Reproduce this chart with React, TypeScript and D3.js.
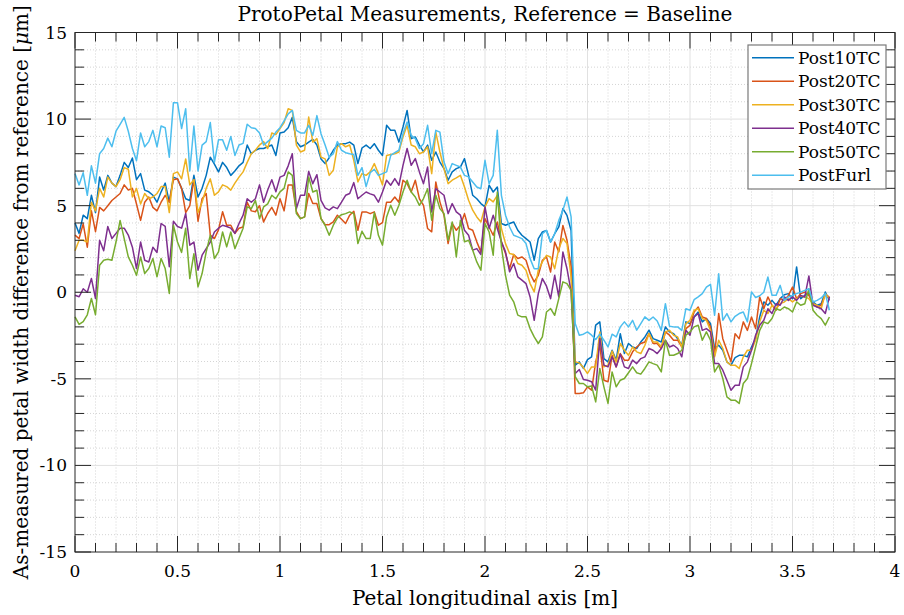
import React from 'react';
import * as d3 from 'd3';

// ProtoPetal width difference from baseline, sampled every 0.02 m along the petal
const SAMPLE_STEP = 0.02;

const seriesNames = ['Post10TC', 'Post20TC', 'Post30TC', 'Post40TC', 'Post50TC', 'PostFurl'];
const seriesColors = ['#0072BD', '#D95319', '#EDB120', '#7E2F8E', '#77AC30', '#4DBEEE'];

const post10TC = [
  4.0, 3.4, 4.45, 4.25, 5.6, 4.6, 6.65, 5.9, 6.75, 6.3, 6.1, 6.75, 7.5, 7.2, 7.75, 6.5, 6.85, 5.9, 5.8, 5.6, 5.2, 5.8, 6.3, 5.2, 6.65, 6.55, 6.0, 5.4, 5.3,
  6.75, 5.5, 6.0, 6.75, 7.8, 7.4, 6.95, 7.5, 7.2, 6.75, 7.0, 7.3, 7.5, 8.5, 8.0, 8.2, 8.3, 8.3, 8.4, 8.5, 7.9, 9.2, 9.25, 9.5, 10.1, 8.7, 8.4, 8.5,
  8.67, 8.83, 8.5, 7.7, 7.43, 7.77, 8.2, 8.5, 8.58, 8.58, 8.67, 8.5, 7.43, 8.33, 8.5, 8.3, 8.58, 8.2, 7.9, 9.64, 9.35, 9.35, 8.67, 9.54, 10.5, 8.87, 8.97, 8.5,
  8.1, 8.5, 7.62, 8.1, 7.52, 7.14, 6.47, 6.95, 7.14, 7.23, 7.72, 6.75, 5.6, 5.4, 5.12, 4.93, 6.18, 5.79, 6.08, 3.97, 3.87, 3.97, 4.06, 3.58, 3.29, 3.1,
  2.9, 1.85, 3.1, 3.48, 3.57, 2.9, 3.38, 3.77, 4.83, 4.44, 3.57, -4.21, -4.02, -4.4, -3.89, -3.73, -1.9, -1.71, -3.83, -4.02, -3.35, -3.92, -2.39, -3.54, -2.96, -3.16, -3.25, -2.87, -2.58, -2.19,
  -2.68, -2.77, -2.87, -2.0, -2.29, -2.39, -2.68, -3.06, -1.71, -1.81, -1.43, -1.14, -1.71, -1.52, -1.81, -3.25, -3.06, -3.35, -4.02, -4.21, -3.77, -3.64, -3.64, -3.73, -3.16, -2.68, -1.43,
  -0.56, -0.75, -0.47, -0.75, -0.37, -0.14, -0.08, -0.37, 1.46, -0.37, -0.18, -0.08, -0.56, -0.75, -0.66, 0.01, -0.47,
];

const post20TC = [
  3.3, 3.1, 3.95, 2.6, 4.7, 3.5, 4.9, 4.7, 5.0, 5.3, 5.5, 5.7, 6.2, 5.9, 6.0, 5.1, 4.15, 5.2, 5.5, 4.9, 4.7, 5.2, 5.6, 5.2, 6.5, 6.55, 6.0, 4.6, 5.0,
  6.5, 4.1, 5.4, 5.7, 3.3, 3.1, 3.6, 4.65, 3.87, 3.87, 3.4, 3.7, 3.77, 5.2, 4.7, 4.65, 5.0, 4.06, 4.55, 4.9, 4.45, 5.4, 4.7, 6.2, 6.2, 4.65, 4.25, 4.35,
  5.7, 5.12, 5.12, 4.25, 3.9, 3.9, 4.06, 4.45, 4.22, 3.97, 4.45, 4.68, 3.58, 4.64, 4.64, 4.54, 4.64, 3.87, 4.02, 5.2, 5.2, 5.5, 5.2, 6.47, 6.27, 5.79, 6.47, 5.4,
  5.02, 3.68, 3.49, 6.37, 5.22, 4.45, 2.81, 3.97, 3.58, 3.87, 4.54, 3.68, 3.58, 2.91, 2.33, 4.25, 3.77, 3.29, 4.06, 2.91, 2.24, 1.37, 2.18, 1.95, 2.04, 1.85,
  1.08, 0.6, 0.98, 1.85, 2.04, 1.17, 2.9, 2.33, 3.86, 3.0, 1.46, -5.85, -5.85, -5.81, -5.46, -5.65, -4.02, -3.06, -5.08, -5.17, -3.64, -4.31, -3.54, -3.92, -3.92, -3.44, -3.16, -2.96, -2.87, -2.39,
  -2.96, -2.96, -3.25, -2.29, -2.48, -2.77, -2.77, -3.16, -2.1, -1.91, -1.14, -0.85, -1.43, -1.52, -2.0, -3.64, -1.23, -2.68, -3.35, -4.02, -2.39, -2.68, -1.71, -2.2, -1.43, -2.1, -0.27,
  -0.95, -0.27, -0.75, -1.04, -0.37, -0.47, -0.18, 0.3, -0.37, -0.08, 0.01, -0.18, -0.66, -0.85, -0.75, -0.14, -0.27,
];

const post30TC = [
  2.4, 3.0, 3.0, 2.9, 5.2, 4.7, 6.0, 5.5, 6.65, 6.3, 6.1, 6.5, 7.2, 7.1, 5.5, 6.0, 5.1, 5.7, 5.4, 5.5, 5.7, 6.1, 6.1, 4.6, 6.85, 6.95, 6.55, 7.7, 6.2,
  6.5, 4.6, 5.2, 6.0, 6.55, 5.6, 5.8, 6.2, 6.1, 5.9, 6.3, 6.65, 6.95, 7.5, 8.0, 8.2, 8.5, 8.7, 8.3, 9.2, 9.1, 9.45, 9.8, 10.6, 10.5, 8.5, 8.1, 8.2,
  10.12, 8.67, 8.87, 7.8, 7.7, 6.75, 7.04, 8.4, 8.58, 8.4, 8.5, 7.62, 6.37, 6.85, 6.75, 6.95, 7.43, 6.85, 6.2, 7.9, 7.95, 8.0, 8.1, 8.97, 9.64, 8.5, 8.4, 8.0,
  8.1, 8.4, 6.85, 9.25, 8.1, 7.14, 6.27, 6.47, 6.6, 6.75, 6.08, 5.31, 4.74, 4.35, 4.06, 4.93, 5.41, 5.22, 5.6, 3.68, 2.81, 2.24, 2.18, 1.66, 1.56, 1.27,
  0.5, 0.02, 1.27, 1.75, 2.13, 2.04, 1.36, 2.52, 3.1, 2.81, 0.88, -4.02, -4.08, -4.35, -4.69, -4.31, -4.31, -2.29, -4.31, -4.21, -3.39, -4.02, -2.96, -3.35, -3.64, -3.16, -3.44, -3.54, -3.06, -2.39,
  -2.87, -2.87, -3.16, -2.29, -2.2, -2.48, -2.58, -3.16, -1.81, -1.62, -1.04, -0.95, -1.52, -1.62, -2.2, -3.73, -2.77, -3.25, -4.02, -4.21, -4.21, -4.4, -3.73, -3.35, -3.35, -2.77, -1.71,
  -1.04, -1.23, -0.75, -0.95, -0.66, -0.56, -0.37, -0.56, -0.37, -0.22, -0.27, -0.37, -0.66, -0.75, -0.95, -0.08, -0.37,
];

const post40TC = [
  -0.17, -0.26, 0.2, 0.0, 0.8, -0.36, 3.0, 2.4, 3.8, 3.1, 3.4, 3.7, 3.7, 3.3, 2.6, 1.37, 2.9, 1.85, 1.75, 2.6, 2.3, 3.97, 3.8, 1.47, 4.1, 3.8, 3.7, 4.55, 2.72,
  2.9, 1.27, 2.14, 2.52, 2.9, 3.48, 3.7, 3.87, 3.8, 3.7, 3.4, 3.97, 4.45, 5.4, 5.2, 5.4, 6.2, 5.2, 5.9, 6.5, 5.8, 6.65, 6.75, 7.3, 8.0, 4.83, 5.6, 5.6,
  6.98, 6.27, 6.79, 5.3, 4.87, 4.74, 4.93, 4.83, 5.2, 5.6, 5.7, 6.33, 5.4, 5.6, 5.79, 5.68, 5.6, 5.2, 5.79, 6.47, 6.18, 6.56, 6.18, 7.33, 8.3, 7.33, 7.72, 6.95,
  6.27, 7.23, 4.64, 5.98, 5.79, 5.6, 4.54, 5.12, 4.64, 4.45, 3.58, 3.29, 2.43, 2.52, 2.18, 4.93, 3.68, 4.45, 3.68, 2.91, 2.33, 1.18, 1.66, 0.89, 0.7, 0.5,
  -0.27, -1.62, -0.08, 0.79, 0.35, -0.37, 0.98, -0.27, 2.33, 1.36, 0.02, -4.69, -4.46, -5.04, -5.08, -5.17, -5.65, -2.67, -4.21, -4.31, -3.73, -4.31, -3.58, -4.31, -4.4, -3.92, -4.12, -3.83, -3.73, -3.25,
  -3.35, -3.54, -3.25, -2.77, -3.16, -3.06, -3.25, -3.73, -2.2, -2.48, -1.43, -1.23, -2.2, -2.1, -2.29, -4.12, -4.12, -4.5, -5.08, -5.66, -5.37, -5.37, -4.31, -4.02, -3.35, -2.48, -1.91,
  -1.62, -0.95, -1.23, -0.66, -0.75, -0.27, -0.47, -0.27, -0.47, -0.18, -0.27, 0.94, -0.75, -0.85, -0.95, -1.23, -0.27,
];

const post50TC = [
  -1.42, -1.86, -1.7, -1.3, -0.36, -1.3, 1.56, 1.85, 1.9, 1.85, 2.9, 4.15, 3.1, 2.04, 1.56, 0.98, 2.04, 1.08, 1.37, 1.95, 0.89, 1.95, 1.37, -0.07, 3.87, 2.9, 2.3, 3.7, 0.79,
  2.23, 0.31, 1.08, 2.33, 3.3, 1.95, 2.33, 3.48, 2.62, 3.48, 2.52, 3.1, 3.7, 4.93, 4.83, 5.3, 4.25, 4.93, 5.1, 5.6, 5.4, 5.8, 6.0, 6.95, 6.75, 4.54, 4.25, 4.35,
  6.66, 5.79, 5.89, 4.25, 3.87, 3.29, 3.87, 4.29, 4.48, 4.54, 4.64, 4.54, 2.81, 3.52, 3.1, 3.1, 4.6, 3.29, 2.72, 4.35, 5.02, 4.45, 5.02, 5.79, 6.47, 5.79, 5.5, 5.02,
  5.41, 5.98, 4.16, 5.6, 4.83, 4.54, 3.0, 4.06, 2.04, 4.16, 2.91, 3.0, 2.43, 1.75, 1.27, 3.97, 3.48, 2.14, 5.79, 2.62, 0.98, -0.17, -0.55, -1.32, -1.42, -1.42,
  -2.1, -2.58, -2.96, -2.58, -1.14, -0.94, -1.33, -0.37, 0.6, 0.5, 0.11, -4.88, -5.27, -5.27, -5.46, -5.42, -6.33, -4.4, -5.46, -6.42, -4.6, -5.46, -5.08, -4.98, -4.65, -4.31, -4.65, -4.73, -4.4, -4.02,
  -4.12, -4.21, -4.6, -2.77, -3.64, -3.64, -3.54, -3.35, -2.48, -2.29, -2.0, -1.91, -2.77, -2.29, -2.77, -4.6, -4.21, -4.98, -6.04, -6.23, -6.23, -6.42, -5.27, -4.98, -4.12, -3.16, -2.2,
  -1.72, -1.81, -1.52, -0.95, -1.04, -0.85, -0.95, -1.14, -0.56, -0.75, -0.66, 0.2, -1.04, -1.33, -1.52, -1.9, -1.43,
];

const postFurl = [
  6.85, 6.2, 6.9, 5.6, 7.3, 6.3, 8.0, 8.3, 8.9, 8.4, 9.3, 9.7, 10.1, 9.3, 8.3, 7.6, 9.2, 8.4, 8.7, 9.35, 8.4, 9.6, 9.5, 7.8, 10.95, 10.95, 9.45, 10.6, 7.0,
  9.6, 7.0, 8.5, 8.7, 9.8, 7.5, 8.8, 8.8, 8.2, 9.0, 7.9, 8.5, 8.6, 9.7, 9.5, 9.45, 9.2, 8.5, 8.7, 8.9, 9.25, 9.5, 9.9, 10.3, 10.5, 9.35, 9.2, 9.2,
  9.64, 9.06, 10.2, 9.16, 8.5, 7.8, 8.0, 8.7, 8.2, 8.06, 8.0, 7.95, 6.75, 7.2, 6.1, 6.9, 7.1, 6.75, 6.85, 6.95, 7.9, 8.06, 8.2, 9.16, 9.83, 9.06, 8.87, 8.3,
  8.58, 9.64, 8.0, 9.35, 9.25, 7.52, 6.85, 7.43, 7.33, 7.23, 6.75, 6.66, 6.37, 6.08, 5.98, 7.62, 6.27, 6.75, 9.35, 5.6, 4.45, 3.77, 3.29, 3.2, 3.1, 2.81,
  1.94, 1.36, 1.36, 3.38, 3.57, 2.9, 3.38, 4.15, 4.73, 5.5, 4.35, -1.81, -2.48, -2.42, -2.29, -2.48, -2.73, -2.42, -2.77, -3.16, -2.42, -2.58, -2.0, -1.71, -2.0, -1.62, -2.19, -1.81, -1.42, -1.62,
  -1.43, -1.66, -2.2, -0.66, -1.96, -2.0, -2.0, -2.2, -0.95, -1.04, -0.43, -0.27, -0.08, 0.3, 0.46, -1.33, 1.07, -1.62, -1.23, -1.71, -1.39, -1.23, -1.14, -1.71, 0.02, -0.3, -0.2,
  0.0, 0.88, -0.18, -0.18, 0.4, -0.47, -0.27, -0.18, -0.08, 0.01, 0.11, 0.2, -0.56, -0.47, -0.33, -0.08, -1.04,
];

const seriesValues = [post10TC, post20TC, post30TC, post40TC, post50TC, postFurl];

const xTickValues = [0, 0.5, 1, 1.5, 2, 2.5, 3, 3.5, 4];
const xTickLabels = ['0', '0.5', '1', '1.5', '2', '2.5', '3', '3.5', '4'];
const yTickValues = [-15, -10, -5, 0, 5, 10, 15];
const yTickLabels = ['-15', '-10', '-5', '0', '5', '10', '15'];

const titleText = 'ProtoPetal Measurements, Reference = Baseline';
const xLabelText = 'Petal longitudinal axis [m]';

const W = 904;
const H = 615;
const M = { left: 75, right: 9, top: 32.5, bottom: 63 };
const FONT = '"DejaVu Serif", "Liberation Serif", serif';
const AXIS = '#262626';

export default function App() {
  const x = d3.scaleLinear().domain([0, 4]).range([M.left, W - M.right]);
  const y = d3.scaleLinear().domain([-15, 15]).range([H - M.bottom, M.top]);
  const [x0, x1] = x.range();
  const [yb, yt] = y.range();

  const xMinor = d3.range(0, 4.0001, 0.1).map((v) => +v.toFixed(2)).filter((v) => !xTickValues.some((t) => Math.abs(t - v) < 1e-6));
  const yMinor = d3.range(-15, 15.0001, 1).filter((v) => v % 5 !== 0);

  const line = d3
    .line<number>()
    .x((_, i) => x(i * SAMPLE_STEP))
    .y((d) => y(d));

  const majorLen = 16;
  const minorLen = 9;

  const legendX = 748;
  const legendY = 45;
  const legendW = 138;
  const legendH = 144;
  const rowH = 23.5;

  return (
    <svg
      width={W}
      height={H}
      viewBox={`0 0 ${W} ${H}`}
      style={{ position: 'absolute', left: 0, top: 0, background: '#fff' }}
      fontFamily={FONT}
    >
      <rect x={0} y={0} width={W} height={H} fill="#fff" />
      <rect x={x0} y={yt} width={x1 - x0} height={yb - yt} fill="#fff" />

      {/* minor grid */}
      <g stroke="#c9c9c9" strokeWidth={0.8} strokeDasharray="1 2">
        {xMinor.map((v) => (
          <line key={`xm${v}`} x1={x(v)} x2={x(v)} y1={yt} y2={yb} />
        ))}
        {yMinor.map((v) => (
          <line key={`ym${v}`} x1={x0} x2={x1} y1={y(v)} y2={y(v)} />
        ))}
      </g>
      {/* major grid */}
      <g stroke="#e1e1e1" strokeWidth={1}>
        {xTickValues.slice(1, -1).map((v) => (
          <line key={`xg${v}`} x1={x(v)} x2={x(v)} y1={yt} y2={yb} />
        ))}
        {yTickValues.slice(1, -1).map((v) => (
          <line key={`yg${v}`} x1={x0} x2={x1} y1={y(v)} y2={y(v)} />
        ))}
      </g>

      {/* data */}
      <g fill="none" strokeWidth={1.5} strokeLinejoin="round">
        {seriesValues.map((vals, k) => (
          <path key={seriesNames[k]} d={line(vals) || ''} stroke={seriesColors[k]} />
        ))}
      </g>

      {/* ticks on all four sides */}
      <g stroke={AXIS} strokeWidth={1}>
        {xTickValues.map((v) => (
          <g key={`xt${v}`}>
            <line x1={x(v)} x2={x(v)} y1={yb} y2={yb - majorLen} />
            <line x1={x(v)} x2={x(v)} y1={yt} y2={yt + majorLen} />
          </g>
        ))}
        {xMinor.map((v) => (
          <g key={`xmt${v}`}>
            <line x1={x(v)} x2={x(v)} y1={yb} y2={yb - minorLen} />
            <line x1={x(v)} x2={x(v)} y1={yt} y2={yt + minorLen} />
          </g>
        ))}
        {yTickValues.map((v) => (
          <g key={`yt${v}`}>
            <line x1={x0} x2={x0 + majorLen} y1={y(v)} y2={y(v)} />
            <line x1={x1} x2={x1 - majorLen} y1={y(v)} y2={y(v)} />
          </g>
        ))}
        {yMinor.map((v) => (
          <g key={`ymt${v}`}>
            <line x1={x0} x2={x0 + minorLen} y1={y(v)} y2={y(v)} />
            <line x1={x1} x2={x1 - minorLen} y1={y(v)} y2={y(v)} />
          </g>
        ))}
        <rect x={x0} y={yt} width={x1 - x0} height={yb - yt} fill="none" />
      </g>

      {/* tick labels */}
      <g fontSize={17} fill="#000">
        {xTickValues.map((v, i) => (
          <text key={`xl${v}`} x={x(v)} y={yb + 25} textAnchor="middle">
            {xTickLabels[i]}
          </text>
        ))}
        {yTickValues.map((v, i) => (
          <text key={`yl${v}`} x={x0 - 8} y={y(v) + 6} textAnchor="end">
            {yTickLabels[i]}
          </text>
        ))}
      </g>

      {/* title and axis labels */}
      <text x={(x0 + x1) / 2} y={21} textAnchor="middle" fontSize={20} fill="#000">
        {titleText}
      </text>
      <text x={(x0 + x1) / 2} y={605} textAnchor="middle" fontSize={20} fill="#000">
        {xLabelText}
      </text>
      <text transform={`translate(28, ${(yb + yt) / 2}) rotate(-90)`} textAnchor="middle" fontSize={20} fill="#000">
        As-measured petal width difference from reference [<tspan fontStyle="italic">μ</tspan>m]
      </text>

      {/* legend */}
      <g>
        <rect x={legendX} y={legendY} width={legendW} height={legendH} fill="#fff" stroke="#7a7a7a" strokeWidth={1.2} />
        {seriesNames.map((name, k) => {
          const cy = legendY + 12.7 + k * rowH;
          return (
            <g key={`lg${name}`}>
              <line x1={legendX + 4} x2={legendX + 46} y1={cy} y2={cy} stroke={seriesColors[k]} strokeWidth={1.5} />
              <text x={legendX + 50} y={cy + 6} fontSize={17} fill="#000">
                {name}
              </text>
            </g>
          );
        })}
      </g>
    </svg>
  );
}
